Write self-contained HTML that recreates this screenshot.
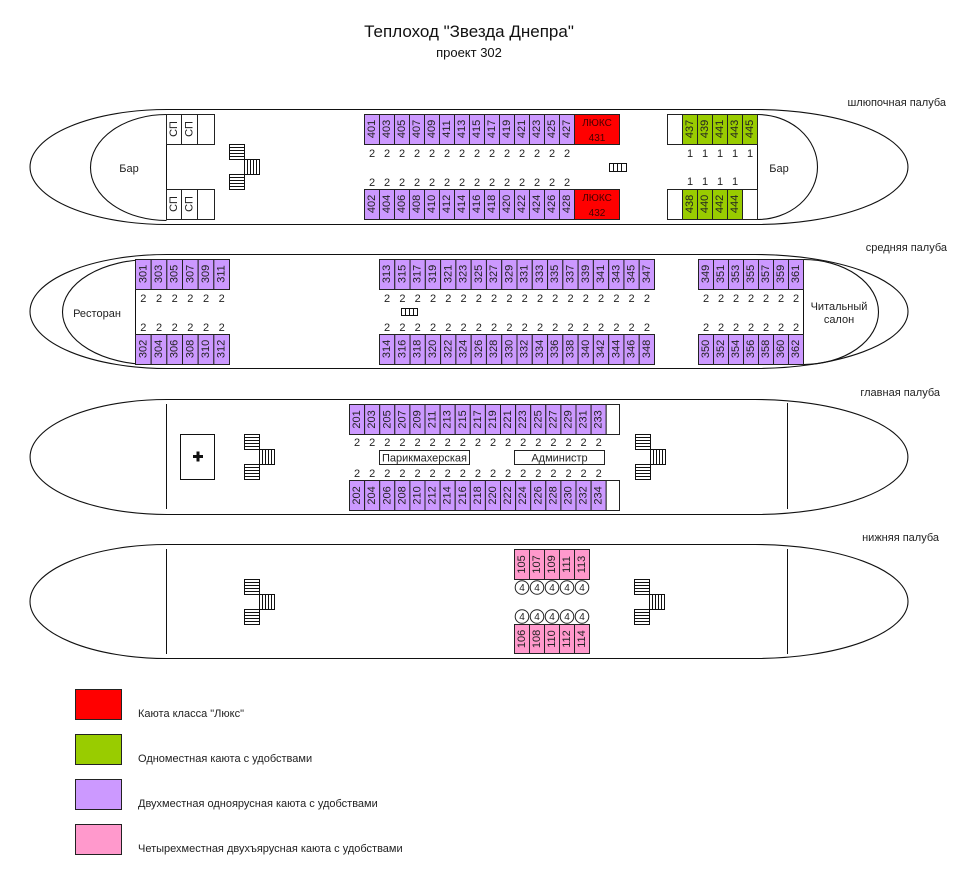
<!DOCTYPE html>
<html><head><meta charset="utf-8">
<style>
html,body{margin:0;padding:0;background:#fff;}
svg{display:block;}
text{font-family:"Liberation Sans",Arial,sans-serif;fill:#222;}
.h{fill:none;stroke:#111;stroke-width:1.1;}
.l{stroke:#111;stroke-width:1;}
.p{fill:#cc99ff;stroke:#222;stroke-width:1;}
.g{fill:#99cc00;stroke:#222;stroke-width:1;}
.k{fill:#ff99cc;stroke:#222;stroke-width:1;}
.rd{fill:#ff0000;stroke:#222;stroke-width:1;}
.w{fill:#fff;stroke:#222;stroke-width:1;}
.n{font-size:11px;text-anchor:middle;dominant-baseline:central;}
.c{font-size:11px;text-anchor:middle;}
.dl{font-size:11px;text-anchor:end;}
</style></head>
<body>
<svg width="953" height="885" viewBox="0 0 953 885" xmlns="http://www.w3.org/2000/svg">
<defs>
<g id="st" fill="#fff" stroke="#111" stroke-width="1">
<rect x="0" y="0" width="15" height="15"/>
<path d="M0 3H15M0 6H15M0 9H15M0 12H15" fill="none"/>
<rect x="15" y="15" width="15" height="15"/>
<path d="M18 15V30M21 15V30M24 15V30M27 15V30" fill="none"/>
<rect x="0" y="30" width="15" height="15"/>
<path d="M0 33H15M0 36H15M0 39H15M0 42H15" fill="none"/>
</g>
</defs>

<!-- Title -->
<text x="469" y="37" style="font-size:17px;text-anchor:middle;fill:#111">Теплоход "Звезда Днепра"</text>
<text x="469" y="57" style="font-size:13px;text-anchor:middle;fill:#111">проект 302</text>

<!-- deck labels -->
<text class="dl" x="946" y="106">шлюпочная палуба</text>
<text class="dl" x="947" y="251">средняя палуба</text>
<text class="dl" x="940" y="396">главная палуба</text>
<text class="dl" x="939" y="541">нижняя палуба</text>

<!-- ================= TOP DECK ================= -->
<path class="h" d="M167 109.5 L755 109.5 A153 57.5 0 0 1 755 224.5 L167 224.5 A137 57.5 0 0 1 167 109.5 Z"/>
<path class="h" d="M166.5 114.5 A76 53 0 0 0 166.5 220.5"/>
<path class="h" d="M757.5 114.5 A60 52.5 0 0 1 757.5 219.5"/>
<line class="l" x1="166.5" y1="114" x2="166.5" y2="220"/>
<line class="l" x1="757.5" y1="114" x2="757.5" y2="219"/>
<!-- SP boxes -->
<rect class="w" x="166.5" y="114.5" width="15" height="30"/>
<rect class="w" x="181.5" y="114.5" width="16" height="30"/>
<rect class="w" x="197.5" y="114.5" width="17" height="30"/>
<rect class="w" x="166.5" y="189.5" width="15" height="30"/>
<rect class="w" x="181.5" y="189.5" width="16" height="30"/>
<rect class="w" x="197.5" y="189.5" width="17" height="30"/>
<text class="n" transform="translate(174 129) rotate(-90)">СП</text>
<text class="n" transform="translate(189.5 129) rotate(-90)">СП</text>
<text class="n" transform="translate(174 204) rotate(-90)">СП</text>
<text class="n" transform="translate(189.5 204) rotate(-90)">СП</text>
<text class="c" x="129" y="172">Бар</text>
<use href="#st" x="229.5" y="144.5"/>

<!-- top cabins row -->
<rect class="p" x="364.5" y="114.5" width="15" height="30"/>
<rect class="p" x="379.5" y="114.5" width="15" height="30"/>
<rect class="p" x="394.5" y="114.5" width="15" height="30"/>
<rect class="p" x="409.5" y="114.5" width="15" height="30"/>
<rect class="p" x="424.5" y="114.5" width="15" height="30"/>
<rect class="p" x="439.5" y="114.5" width="15" height="30"/>
<rect class="p" x="454.5" y="114.5" width="15" height="30"/>
<rect class="p" x="469.5" y="114.5" width="15" height="30"/>
<rect class="p" x="484.5" y="114.5" width="15" height="30"/>
<rect class="p" x="499.5" y="114.5" width="15" height="30"/>
<rect class="p" x="514.5" y="114.5" width="15" height="30"/>
<rect class="p" x="529.5" y="114.5" width="15" height="30"/>
<rect class="p" x="544.5" y="114.5" width="15" height="30"/>
<rect class="p" x="559.5" y="114.5" width="15" height="30"/>
<rect class="rd" x="574.5" y="114.5" width="45" height="30"/>
<text class="n" transform="translate(372 129) rotate(-90)">401</text>
<text class="n" transform="translate(387 129) rotate(-90)">403</text>
<text class="n" transform="translate(402 129) rotate(-90)">405</text>
<text class="n" transform="translate(417 129) rotate(-90)">407</text>
<text class="n" transform="translate(432 129) rotate(-90)">409</text>
<text class="n" transform="translate(447 129) rotate(-90)">411</text>
<text class="n" transform="translate(462 129) rotate(-90)">413</text>
<text class="n" transform="translate(477 129) rotate(-90)">415</text>
<text class="n" transform="translate(492 129) rotate(-90)">417</text>
<text class="n" transform="translate(507 129) rotate(-90)">419</text>
<text class="n" transform="translate(522 129) rotate(-90)">421</text>
<text class="n" transform="translate(537 129) rotate(-90)">423</text>
<text class="n" transform="translate(552 129) rotate(-90)">425</text>
<text class="n" transform="translate(567 129) rotate(-90)">427</text>
<text x="597" y="126" style="font-size:10px;text-anchor:middle;fill:#400">ЛЮКС</text>
<text x="597" y="141" style="font-size:10px;text-anchor:middle;fill:#400">431</text>
<!-- bottom cabins row -->
<rect class="p" x="364.5" y="189.5" width="15" height="30"/>
<rect class="p" x="379.5" y="189.5" width="15" height="30"/>
<rect class="p" x="394.5" y="189.5" width="15" height="30"/>
<rect class="p" x="409.5" y="189.5" width="15" height="30"/>
<rect class="p" x="424.5" y="189.5" width="15" height="30"/>
<rect class="p" x="439.5" y="189.5" width="15" height="30"/>
<rect class="p" x="454.5" y="189.5" width="15" height="30"/>
<rect class="p" x="469.5" y="189.5" width="15" height="30"/>
<rect class="p" x="484.5" y="189.5" width="15" height="30"/>
<rect class="p" x="499.5" y="189.5" width="15" height="30"/>
<rect class="p" x="514.5" y="189.5" width="15" height="30"/>
<rect class="p" x="529.5" y="189.5" width="15" height="30"/>
<rect class="p" x="544.5" y="189.5" width="15" height="30"/>
<rect class="p" x="559.5" y="189.5" width="15" height="30"/>
<rect class="rd" x="574.5" y="189.5" width="45" height="30"/>
<text class="n" transform="translate(372 204) rotate(-90)">402</text>
<text class="n" transform="translate(387 204) rotate(-90)">404</text>
<text class="n" transform="translate(402 204) rotate(-90)">406</text>
<text class="n" transform="translate(417 204) rotate(-90)">408</text>
<text class="n" transform="translate(432 204) rotate(-90)">410</text>
<text class="n" transform="translate(447 204) rotate(-90)">412</text>
<text class="n" transform="translate(462 204) rotate(-90)">414</text>
<text class="n" transform="translate(477 204) rotate(-90)">416</text>
<text class="n" transform="translate(492 204) rotate(-90)">418</text>
<text class="n" transform="translate(507 204) rotate(-90)">420</text>
<text class="n" transform="translate(522 204) rotate(-90)">422</text>
<text class="n" transform="translate(537 204) rotate(-90)">424</text>
<text class="n" transform="translate(552 204) rotate(-90)">426</text>
<text class="n" transform="translate(567 204) rotate(-90)">428</text>
<text x="597" y="201" style="font-size:10px;text-anchor:middle;fill:#400">ЛЮКС</text>
<text x="597" y="216" style="font-size:10px;text-anchor:middle;fill:#400">432</text>
<text class="c" x="372 387 402 417 432 447 462 477 492 507 522 537 552 567" y="157">22222222222222</text>
<text class="c" x="372 387 402 417 432 447 462 477 492 507 522 537 552 567" y="186">22222222222222</text>
<!-- small stair -->
<rect x="609.5" y="163.5" width="17" height="8" fill="#fff" stroke="#111"/>
<path d="M613.5 163.5V171.5M617.5 163.5V171.5M621.5 163.5V171.5" stroke="#111"/>

<!-- green cabins -->
<rect class="w" x="667.5" y="114.5" width="15" height="30"/>
<rect class="g" x="682.5" y="114.5" width="15" height="30"/>
<rect class="g" x="697.5" y="114.5" width="15" height="30"/>
<rect class="g" x="712.5" y="114.5" width="15" height="30"/>
<rect class="g" x="727.5" y="114.5" width="15" height="30"/>
<rect class="g" x="742.5" y="114.5" width="15" height="30"/>
<text class="n" transform="translate(690 129) rotate(-90)">437</text>
<text class="n" transform="translate(705 129) rotate(-90)">439</text>
<text class="n" transform="translate(720 129) rotate(-90)">441</text>
<text class="n" transform="translate(735 129) rotate(-90)">443</text>
<text class="n" transform="translate(750 129) rotate(-90)">445</text>
<rect class="w" x="667.5" y="189.5" width="15" height="30"/>
<rect class="g" x="682.5" y="189.5" width="15" height="30"/>
<rect class="g" x="697.5" y="189.5" width="15" height="30"/>
<rect class="g" x="712.5" y="189.5" width="15" height="30"/>
<rect class="g" x="727.5" y="189.5" width="15" height="30"/>
<rect class="w" x="742.5" y="189.5" width="15" height="30"/>
<text class="n" transform="translate(690 204) rotate(-90)">438</text>
<text class="n" transform="translate(705 204) rotate(-90)">440</text>
<text class="n" transform="translate(720 204) rotate(-90)">442</text>
<text class="n" transform="translate(735 204) rotate(-90)">444</text>
<text class="c" x="690 705 720 735 750" y="157">11111</text>
<text class="c" x="690 705 720 735" y="185">1111</text>
<text class="c" x="779" y="172">Бар</text>

<!-- ================= MIDDLE DECK ================= -->
<path class="h" d="M167 254.5 L755 254.5 A153 57 0 0 1 755 368.5 L167 368.5 A137 57 0 0 1 167 254.5 Z"/>
<path class="h" d="M150.5 259.5 A88 52.5 0 0 0 150.5 364.5"/>
<path class="h" d="M803.5 259.5 A75 52.5 0 0 1 803.5 364.5"/>
<line class="l" x1="135.5" y1="259" x2="135.5" y2="364"/>
<line class="l" x1="803.5" y1="259" x2="803.5" y2="364"/>
<text class="c" x="97" y="317">Ресторан</text>
<text class="c" x="839" y="310">Читальный</text>
<text class="c" x="839" y="323">салон</text>

<!-- left cabins -->
<rect class="p" x="135.5" y="259.5" width="15.67" height="30"/>
<rect class="p" x="151.17" y="259.5" width="15.67" height="30"/>
<rect class="p" x="166.83" y="259.5" width="15.67" height="30"/>
<rect class="p" x="182.5" y="259.5" width="15.67" height="30"/>
<rect class="p" x="198.17" y="259.5" width="15.67" height="30"/>
<rect class="p" x="213.83" y="259.5" width="15.67" height="30"/>
<text class="n" transform="translate(143.3 274) rotate(-90)">301</text>
<text class="n" transform="translate(159 274) rotate(-90)">303</text>
<text class="n" transform="translate(174.7 274) rotate(-90)">305</text>
<text class="n" transform="translate(190.3 274) rotate(-90)">307</text>
<text class="n" transform="translate(206 274) rotate(-90)">309</text>
<text class="n" transform="translate(221.7 274) rotate(-90)">311</text>
<rect class="p" x="135.5" y="334.5" width="15.67" height="30"/>
<rect class="p" x="151.17" y="334.5" width="15.67" height="30"/>
<rect class="p" x="166.83" y="334.5" width="15.67" height="30"/>
<rect class="p" x="182.5" y="334.5" width="15.67" height="30"/>
<rect class="p" x="198.17" y="334.5" width="15.67" height="30"/>
<rect class="p" x="213.83" y="334.5" width="15.67" height="30"/>
<text class="n" transform="translate(143.3 349) rotate(-90)">302</text>
<text class="n" transform="translate(159 349) rotate(-90)">304</text>
<text class="n" transform="translate(174.7 349) rotate(-90)">306</text>
<text class="n" transform="translate(190.3 349) rotate(-90)">308</text>
<text class="n" transform="translate(206 349) rotate(-90)">310</text>
<text class="n" transform="translate(221.7 349) rotate(-90)">312</text>
<text class="c" x="143.3 159 174.7 190.3 206 221.7" y="302">222222</text>
<text class="c" x="143.3 159 174.7 190.3 206 221.7" y="331">222222</text>

<!-- center cabins -->
<rect class="p" x="379.5" y="259.5" width="15.28" height="30"/>
<rect class="p" x="394.78" y="259.5" width="15.28" height="30"/>
<rect class="p" x="410.06" y="259.5" width="15.28" height="30"/>
<rect class="p" x="425.33" y="259.5" width="15.28" height="30"/>
<rect class="p" x="440.61" y="259.5" width="15.28" height="30"/>
<rect class="p" x="455.89" y="259.5" width="15.28" height="30"/>
<rect class="p" x="471.17" y="259.5" width="15.28" height="30"/>
<rect class="p" x="486.44" y="259.5" width="15.28" height="30"/>
<rect class="p" x="501.72" y="259.5" width="15.28" height="30"/>
<rect class="p" x="517" y="259.5" width="15.28" height="30"/>
<rect class="p" x="532.28" y="259.5" width="15.28" height="30"/>
<rect class="p" x="547.56" y="259.5" width="15.28" height="30"/>
<rect class="p" x="562.83" y="259.5" width="15.28" height="30"/>
<rect class="p" x="578.11" y="259.5" width="15.28" height="30"/>
<rect class="p" x="593.39" y="259.5" width="15.28" height="30"/>
<rect class="p" x="608.67" y="259.5" width="15.28" height="30"/>
<rect class="p" x="623.94" y="259.5" width="15.28" height="30"/>
<rect class="p" x="639.22" y="259.5" width="15.28" height="30"/>
<text class="n" transform="translate(387.1 274) rotate(-90)">313</text>
<text class="n" transform="translate(402.4 274) rotate(-90)">315</text>
<text class="n" transform="translate(417.7 274) rotate(-90)">317</text>
<text class="n" transform="translate(433 274) rotate(-90)">319</text>
<text class="n" transform="translate(448.3 274) rotate(-90)">321</text>
<text class="n" transform="translate(463.5 274) rotate(-90)">323</text>
<text class="n" transform="translate(478.8 274) rotate(-90)">325</text>
<text class="n" transform="translate(494.1 274) rotate(-90)">327</text>
<text class="n" transform="translate(509.4 274) rotate(-90)">329</text>
<text class="n" transform="translate(524.7 274) rotate(-90)">331</text>
<text class="n" transform="translate(540 274) rotate(-90)">333</text>
<text class="n" transform="translate(555.2 274) rotate(-90)">335</text>
<text class="n" transform="translate(570.5 274) rotate(-90)">337</text>
<text class="n" transform="translate(585.8 274) rotate(-90)">339</text>
<text class="n" transform="translate(601.1 274) rotate(-90)">341</text>
<text class="n" transform="translate(616.4 274) rotate(-90)">343</text>
<text class="n" transform="translate(631.6 274) rotate(-90)">345</text>
<text class="n" transform="translate(646.9 274) rotate(-90)">347</text>
<rect class="p" x="379.5" y="334.5" width="15.28" height="30"/>
<rect class="p" x="394.78" y="334.5" width="15.28" height="30"/>
<rect class="p" x="410.06" y="334.5" width="15.28" height="30"/>
<rect class="p" x="425.33" y="334.5" width="15.28" height="30"/>
<rect class="p" x="440.61" y="334.5" width="15.28" height="30"/>
<rect class="p" x="455.89" y="334.5" width="15.28" height="30"/>
<rect class="p" x="471.17" y="334.5" width="15.28" height="30"/>
<rect class="p" x="486.44" y="334.5" width="15.28" height="30"/>
<rect class="p" x="501.72" y="334.5" width="15.28" height="30"/>
<rect class="p" x="517" y="334.5" width="15.28" height="30"/>
<rect class="p" x="532.28" y="334.5" width="15.28" height="30"/>
<rect class="p" x="547.56" y="334.5" width="15.28" height="30"/>
<rect class="p" x="562.83" y="334.5" width="15.28" height="30"/>
<rect class="p" x="578.11" y="334.5" width="15.28" height="30"/>
<rect class="p" x="593.39" y="334.5" width="15.28" height="30"/>
<rect class="p" x="608.67" y="334.5" width="15.28" height="30"/>
<rect class="p" x="623.94" y="334.5" width="15.28" height="30"/>
<rect class="p" x="639.22" y="334.5" width="15.28" height="30"/>
<text class="n" transform="translate(387.1 349) rotate(-90)">314</text>
<text class="n" transform="translate(402.4 349) rotate(-90)">316</text>
<text class="n" transform="translate(417.7 349) rotate(-90)">318</text>
<text class="n" transform="translate(433 349) rotate(-90)">320</text>
<text class="n" transform="translate(448.3 349) rotate(-90)">322</text>
<text class="n" transform="translate(463.5 349) rotate(-90)">324</text>
<text class="n" transform="translate(478.8 349) rotate(-90)">326</text>
<text class="n" transform="translate(494.1 349) rotate(-90)">328</text>
<text class="n" transform="translate(509.4 349) rotate(-90)">330</text>
<text class="n" transform="translate(524.7 349) rotate(-90)">332</text>
<text class="n" transform="translate(540 349) rotate(-90)">334</text>
<text class="n" transform="translate(555.2 349) rotate(-90)">336</text>
<text class="n" transform="translate(570.5 349) rotate(-90)">338</text>
<text class="n" transform="translate(585.8 349) rotate(-90)">340</text>
<text class="n" transform="translate(601.1 349) rotate(-90)">342</text>
<text class="n" transform="translate(616.4 349) rotate(-90)">344</text>
<text class="n" transform="translate(631.6 349) rotate(-90)">346</text>
<text class="n" transform="translate(646.9 349) rotate(-90)">348</text>
<text class="c" x="387.1 402.4 417.7 433 448.3 463.5 478.8 494.1 509.4 524.7 540 555.2 570.5 585.8 601.1 616.4 631.6 646.9" y="302">222222222222222222</text>
<text class="c" x="387.1 402.4 417.7 433 448.3 463.5 478.8 494.1 509.4 524.7 540 555.2 570.5 585.8 601.1 616.4 631.6 646.9" y="331">222222222222222222</text>
<rect x="401.5" y="308.5" width="16" height="7" fill="#fff" stroke="#111"/>
<path d="M405.5 308.5V315.5M409.5 308.5V315.5M413.5 308.5V315.5" stroke="#111"/>

<!-- right cabins -->
<rect class="p" x="698.5" y="259.5" width="15" height="30"/>
<rect class="p" x="713.5" y="259.5" width="15" height="30"/>
<rect class="p" x="728.5" y="259.5" width="15" height="30"/>
<rect class="p" x="743.5" y="259.5" width="15" height="30"/>
<rect class="p" x="758.5" y="259.5" width="15" height="30"/>
<rect class="p" x="773.5" y="259.5" width="15" height="30"/>
<rect class="p" x="788.5" y="259.5" width="15" height="30"/>
<text class="n" transform="translate(706 274) rotate(-90)">349</text>
<text class="n" transform="translate(721 274) rotate(-90)">351</text>
<text class="n" transform="translate(736 274) rotate(-90)">353</text>
<text class="n" transform="translate(751 274) rotate(-90)">355</text>
<text class="n" transform="translate(766 274) rotate(-90)">357</text>
<text class="n" transform="translate(781 274) rotate(-90)">359</text>
<text class="n" transform="translate(796 274) rotate(-90)">361</text>
<rect class="p" x="698.5" y="334.5" width="15" height="30"/>
<rect class="p" x="713.5" y="334.5" width="15" height="30"/>
<rect class="p" x="728.5" y="334.5" width="15" height="30"/>
<rect class="p" x="743.5" y="334.5" width="15" height="30"/>
<rect class="p" x="758.5" y="334.5" width="15" height="30"/>
<rect class="p" x="773.5" y="334.5" width="15" height="30"/>
<rect class="p" x="788.5" y="334.5" width="15" height="30"/>
<text class="n" transform="translate(706 349) rotate(-90)">350</text>
<text class="n" transform="translate(721 349) rotate(-90)">352</text>
<text class="n" transform="translate(736 349) rotate(-90)">354</text>
<text class="n" transform="translate(751 349) rotate(-90)">356</text>
<text class="n" transform="translate(766 349) rotate(-90)">358</text>
<text class="n" transform="translate(781 349) rotate(-90)">360</text>
<text class="n" transform="translate(796 349) rotate(-90)">362</text>
<text class="c" x="706 721 736 751 766 781 796" y="302">2222222</text>
<text class="c" x="706 721 736 751 766 781 796" y="331">2222222</text>

<!-- ================= MAIN DECK ================= -->
<path class="h" d="M167 399.5 L755 399.5 A153 57.5 0 0 1 755 514.5 L167 514.5 A137 57.5 0 0 1 167 399.5 Z"/>
<line class="l" x1="166.5" y1="404" x2="166.5" y2="509"/>
<line class="l" x1="787.5" y1="403" x2="787.5" y2="509"/>
<rect x="180.5" y="434.5" width="34" height="45" fill="#fff" stroke="#111"/>
<rect x="193" y="455" width="10" height="3" fill="#111"/>
<rect x="196.5" y="451.5" width="3" height="10" fill="#111"/>
<use href="#st" x="244.5" y="434.5"/>
<use href="#st" x="635.5" y="434.5"/>

<rect class="p" x="349.5" y="404.5" width="15.1" height="30"/>
<rect class="p" x="364.6" y="404.5" width="15.1" height="30"/>
<rect class="p" x="379.7" y="404.5" width="15.1" height="30"/>
<rect class="p" x="394.8" y="404.5" width="15.1" height="30"/>
<rect class="p" x="409.9" y="404.5" width="15.1" height="30"/>
<rect class="p" x="425" y="404.5" width="15.1" height="30"/>
<rect class="p" x="440.1" y="404.5" width="15.1" height="30"/>
<rect class="p" x="455.2" y="404.5" width="15.1" height="30"/>
<rect class="p" x="470.3" y="404.5" width="15.1" height="30"/>
<rect class="p" x="485.4" y="404.5" width="15.1" height="30"/>
<rect class="p" x="500.5" y="404.5" width="15.1" height="30"/>
<rect class="p" x="515.6" y="404.5" width="15.1" height="30"/>
<rect class="p" x="530.7" y="404.5" width="15.1" height="30"/>
<rect class="p" x="545.8" y="404.5" width="15.1" height="30"/>
<rect class="p" x="560.9" y="404.5" width="15.1" height="30"/>
<rect class="p" x="576" y="404.5" width="15.1" height="30"/>
<rect class="p" x="591.1" y="404.5" width="15.1" height="30"/>
<rect class="w" x="606.2" y="404.5" width="13.3" height="30"/>
<text class="n" transform="translate(357.1 419.5) rotate(-90)">201</text>
<text class="n" transform="translate(372.2 419.5) rotate(-90)">203</text>
<text class="n" transform="translate(387.3 419.5) rotate(-90)">205</text>
<text class="n" transform="translate(402.4 419.5) rotate(-90)">207</text>
<text class="n" transform="translate(417.5 419.5) rotate(-90)">209</text>
<text class="n" transform="translate(432.6 419.5) rotate(-90)">211</text>
<text class="n" transform="translate(447.7 419.5) rotate(-90)">213</text>
<text class="n" transform="translate(462.8 419.5) rotate(-90)">215</text>
<text class="n" transform="translate(477.9 419.5) rotate(-90)">217</text>
<text class="n" transform="translate(493 419.5) rotate(-90)">219</text>
<text class="n" transform="translate(508.1 419.5) rotate(-90)">221</text>
<text class="n" transform="translate(523.2 419.5) rotate(-90)">223</text>
<text class="n" transform="translate(538.3 419.5) rotate(-90)">225</text>
<text class="n" transform="translate(553.4 419.5) rotate(-90)">227</text>
<text class="n" transform="translate(568.5 419.5) rotate(-90)">229</text>
<text class="n" transform="translate(583.6 419.5) rotate(-90)">231</text>
<text class="n" transform="translate(598.7 419.5) rotate(-90)">233</text>
<rect class="p" x="349.5" y="480.5" width="15.1" height="30"/>
<rect class="p" x="364.6" y="480.5" width="15.1" height="30"/>
<rect class="p" x="379.7" y="480.5" width="15.1" height="30"/>
<rect class="p" x="394.8" y="480.5" width="15.1" height="30"/>
<rect class="p" x="409.9" y="480.5" width="15.1" height="30"/>
<rect class="p" x="425" y="480.5" width="15.1" height="30"/>
<rect class="p" x="440.1" y="480.5" width="15.1" height="30"/>
<rect class="p" x="455.2" y="480.5" width="15.1" height="30"/>
<rect class="p" x="470.3" y="480.5" width="15.1" height="30"/>
<rect class="p" x="485.4" y="480.5" width="15.1" height="30"/>
<rect class="p" x="500.5" y="480.5" width="15.1" height="30"/>
<rect class="p" x="515.6" y="480.5" width="15.1" height="30"/>
<rect class="p" x="530.7" y="480.5" width="15.1" height="30"/>
<rect class="p" x="545.8" y="480.5" width="15.1" height="30"/>
<rect class="p" x="560.9" y="480.5" width="15.1" height="30"/>
<rect class="p" x="576" y="480.5" width="15.1" height="30"/>
<rect class="p" x="591.1" y="480.5" width="15.1" height="30"/>
<rect class="w" x="606.2" y="480.5" width="13.3" height="30"/>
<text class="n" transform="translate(357.1 495.5) rotate(-90)">202</text>
<text class="n" transform="translate(372.2 495.5) rotate(-90)">204</text>
<text class="n" transform="translate(387.3 495.5) rotate(-90)">206</text>
<text class="n" transform="translate(402.4 495.5) rotate(-90)">208</text>
<text class="n" transform="translate(417.5 495.5) rotate(-90)">210</text>
<text class="n" transform="translate(432.6 495.5) rotate(-90)">212</text>
<text class="n" transform="translate(447.7 495.5) rotate(-90)">214</text>
<text class="n" transform="translate(462.8 495.5) rotate(-90)">216</text>
<text class="n" transform="translate(477.9 495.5) rotate(-90)">218</text>
<text class="n" transform="translate(493 495.5) rotate(-90)">220</text>
<text class="n" transform="translate(508.1 495.5) rotate(-90)">222</text>
<text class="n" transform="translate(523.2 495.5) rotate(-90)">224</text>
<text class="n" transform="translate(538.3 495.5) rotate(-90)">226</text>
<text class="n" transform="translate(553.4 495.5) rotate(-90)">228</text>
<text class="n" transform="translate(568.5 495.5) rotate(-90)">230</text>
<text class="n" transform="translate(583.6 495.5) rotate(-90)">232</text>
<text class="n" transform="translate(598.7 495.5) rotate(-90)">234</text>
<text class="c" x="357.1 372.2 387.3 402.4 417.5 432.6 447.7 462.8 477.9 493 508.1 523.2 538.3 553.4 568.5 583.6 598.7" y="446">22222222222222222</text>
<text class="c" x="357.1 372.2 387.3 402.4 417.5 432.6 447.7 462.8 477.9 493 508.1 523.2 538.3 553.4 568.5 583.6 598.7" y="477">22222222222222222</text>
<rect x="379.5" y="450.5" width="90" height="14" fill="#fff" stroke="#222"/>
<text class="c" x="424.5" y="461.5">Парикмахерская</text>
<rect x="514.5" y="450.5" width="90" height="14" fill="#fff" stroke="#222"/>
<text class="c" x="559.5" y="461.5">Администр</text>

<!-- ================= LOWER DECK ================= -->
<path class="h" d="M167 544.5 L755 544.5 A153 57 0 0 1 755 658.5 L167 658.5 A137 57 0 0 1 167 544.5 Z"/>
<line class="l" x1="166.5" y1="549" x2="166.5" y2="654"/>
<line class="l" x1="787.5" y1="549" x2="787.5" y2="654"/>
<use href="#st" x="244.5" y="579.5"/>
<use href="#st" x="634.5" y="579.5"/>
<rect class="k" x="514.5" y="549.5" width="15" height="30"/>
<rect class="k" x="529.5" y="549.5" width="15" height="30"/>
<rect class="k" x="544.5" y="549.5" width="15" height="30"/>
<rect class="k" x="559.5" y="549.5" width="15" height="30"/>
<rect class="k" x="574.5" y="549.5" width="15" height="30"/>
<text class="n" transform="translate(522 564.5) rotate(-90)">105</text>
<text class="n" transform="translate(537 564.5) rotate(-90)">107</text>
<text class="n" transform="translate(552 564.5) rotate(-90)">109</text>
<text class="n" transform="translate(567 564.5) rotate(-90)">111</text>
<text class="n" transform="translate(582 564.5) rotate(-90)">113</text>
<rect class="k" x="514.5" y="624.5" width="15" height="29"/>
<rect class="k" x="529.5" y="624.5" width="15" height="29"/>
<rect class="k" x="544.5" y="624.5" width="15" height="29"/>
<rect class="k" x="559.5" y="624.5" width="15" height="29"/>
<rect class="k" x="574.5" y="624.5" width="15" height="29"/>
<text class="n" transform="translate(522 639) rotate(-90)">106</text>
<text class="n" transform="translate(537 639) rotate(-90)">108</text>
<text class="n" transform="translate(552 639) rotate(-90)">110</text>
<text class="n" transform="translate(567 639) rotate(-90)">112</text>
<text class="n" transform="translate(582 639) rotate(-90)">114</text>
<g fill="#fff" stroke="#222" stroke-width="1">
<circle cx="522" cy="587.5" r="6.8"/><circle cx="537" cy="587.5" r="6.8"/><circle cx="552" cy="587.5" r="6.8"/><circle cx="567" cy="587.5" r="6.8"/><circle cx="582" cy="587.5" r="6.8"/>
<circle cx="522" cy="616.5" r="6.8"/><circle cx="537" cy="616.5" r="6.8"/><circle cx="552" cy="616.5" r="6.8"/><circle cx="567" cy="616.5" r="6.8"/><circle cx="582" cy="616.5" r="6.8"/>
</g>
<text x="522 537 552 567 582" y="591" style="font-size:10px;text-anchor:middle">44444</text>
<text x="522 537 552 567 582" y="620" style="font-size:10px;text-anchor:middle">44444</text>

<!-- ================= LEGEND ================= -->
<rect x="75.5" y="689.5" width="46" height="30" fill="#ff0000" stroke="#222"/>
<rect x="75.5" y="734.5" width="46" height="30" fill="#99cc00" stroke="#222"/>
<rect x="75.5" y="779.5" width="46" height="30" fill="#cc99ff" stroke="#222"/>
<rect x="75.5" y="824.5" width="46" height="30" fill="#ff99cc" stroke="#222"/>
<text x="138" y="717" style="font-size:11px">Каюта класса "Люкс"</text>
<text x="138" y="762" style="font-size:11px">Одноместная каюта с удобствами</text>
<text x="138" y="807" style="font-size:11px">Двухместная одноярусная каюта с удобствами</text>
<text x="138" y="852" style="font-size:11px">Четырехместная двухъярусная каюта с удобствами</text>
</svg>
</body></html>
